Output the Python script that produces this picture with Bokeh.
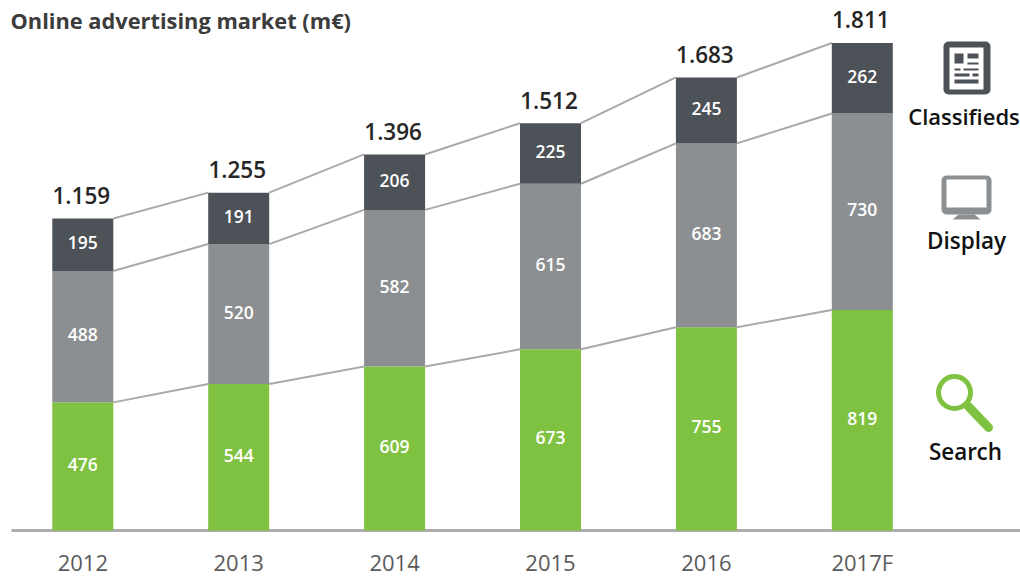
from bokeh.plotting import figure
from bokeh.models import Label, FixedTicker, ColumnDataSource
from bokeh.core.properties import value
from bokeh.embed import file_html
from bokeh.resources import INLINE

years = ["2012", "2013", "2014", "2015", "2016", "2017F"]
search = [476, 544, 609, 673, 755, 819]
display = [488, 520, 582, 615, 683, 730]
classifieds = [195, 191, 206, 225, 245, 262]
totals = ["1.159", "1.255", "1.396", "1.512", "1.683", "1.811"]
title = "Online advertising market (m€)"

GREEN, GRAY, DARK = "#7fc241", "#8b8f91", "#4c5257"
FONT = "Open Sans SemiBold"
W, H = 1020, 576
BASE = 530
X0, DX = 82.3, 155.9
PXU = 0.2692
BAR = 61 / DX

xr = ((0 - X0) / DX, (W - X0) / DX)
yr = ((BASE - H) / PXU, BASE / PXU)
p = figure(width=W, height=H, x_range=xr, y_range=yr, toolbar_location=None,
           output_backend="svg", min_border_left=0, min_border_right=0,
           min_border_top=0, min_border_bottom=0,
           background_fill_color="white", border_fill_color="white", outline_line_color=None)
p.grid.visible = False
p.yaxis.visible = False
ax = p.xaxis[0]
ax.fixed_location = 0
ax.ticker = FixedTicker(ticks=list(range(len(years))))
ax.major_label_overrides = {i: y for i, y in enumerate(years)}
ax.axis_line_color = None
ax.major_tick_line_color = None
ax.minor_tick_line_color = None
ax.major_label_standoff = 10
ax.major_label_text_font = "Open Sans"
ax.major_label_text_font_size = "22px"
ax.major_label_text_color = "#5a5a5a"

def px(x):
    return (x - X0) / DX

def py(y):
    return (BASE - y) / PXU

idx = list(range(len(years)))
b1 = search
b2 = [a + b for a, b in zip(search, display)]
b3 = [a + b for a, b in zip(b2, classifieds)]

# baseline
p.line([px(11), px(W)], [0, 0], line_color="#adadad", line_width=3)

# connectors
for level in (b1, b2, b3):
    for i in idx[:-1]:
        p.line([i + BAR / 2, i + 1 - BAR / 2], [level[i], level[i + 1]],
               line_color="#a9a9a9", line_width=2)

p.vbar(x=idx, width=BAR, bottom=0, top=b1, fill_color=GREEN, line_color=None)
p.vbar(x=idx, width=BAR, bottom=b1, top=b2, fill_color=GRAY, line_color=None)
p.vbar(x=idx, width=BAR, bottom=b2, top=b3, fill_color=DARK, line_color=None)

def seg_labels(bottom, vals):
    src = ColumnDataSource(dict(x=idx, y=[b + v / 2 for b, v in zip(bottom, vals)], t=[str(v) for v in vals]))
    p.text("x", "y", text="t", source=src, text_color="white", text_align="center",
           text_baseline="middle", text_font=value(FONT), text_font_size="17.5px",
           y_offset=-2)

seg_labels([0] * len(idx), search)
seg_labels(b1, display)
seg_labels(b2, classifieds)

src = ColumnDataSource(dict(x=idx, y=b3, t=totals))
p.text("x", "y", text="t", source=src, text_color="#262626", text_align="center",
       text_baseline="middle", text_font=value(FONT), text_font_size="22.5px",
       x_offset=-1.5, y_offset=-23)

def label(x, y, t, size, color="#111111", align="center", font=FONT, style="normal"):
    p.add_layout(Label(x=px(x), y=py(y), text=t, text_font=font, text_font_size=size,
                       text_font_style=style, text_color=color, text_align=align,
                       text_baseline="middle"))

label(10, 19.5, title, "21.8px", "#3c3c3c", "left", "Open Sans", "bold")
label(963.5, 115, "Classifieds", "22px")
label(966, 240, "Display", "22.5px")
label(965, 451, "Search", "22.5px")

def box(l, t, r, b, color, radius=0):
    p.quad(left=[px(l)], right=[px(r)], top=[py(t)], bottom=[py(b)],
           fill_color=color, line_color=None, border_radius=radius)

# classifieds icon
box(943, 41, 990, 94, DARK, 5)
box(949, 47, 983, 89, "white")
box(954, 53, 963, 63, DARK)
box(967, 53, 978, 58, DARK)
box(967, 62, 978, 64, DARK)
box(954, 68, 960, 70, DARK)
box(963, 68, 978, 70, DARK)
box(954, 73, 969, 76, DARK)
box(972, 73, 978, 76, DARK)
box(954, 79, 978, 83, DARK)

# display icon
box(941, 175, 991, 214, GRAY, 5)
box(946, 179, 986, 207, "white")
p.patch([px(v) for v in (958, 974, 980, 952)], [py(v) for v in (214, 214, 219, 219)],
        fill_color=GRAY, line_color=None)

# search icon
p.line([px(967), px(988)], [py(405), py(427)], line_color=GREEN, line_width=9, line_cap="round")
p.scatter([px(954)], [py(392)], size=32, marker="circle", fill_color="white",
          line_color=GREEN, line_width=5)

open("out.html", "w").write(file_html(p, INLINE))
